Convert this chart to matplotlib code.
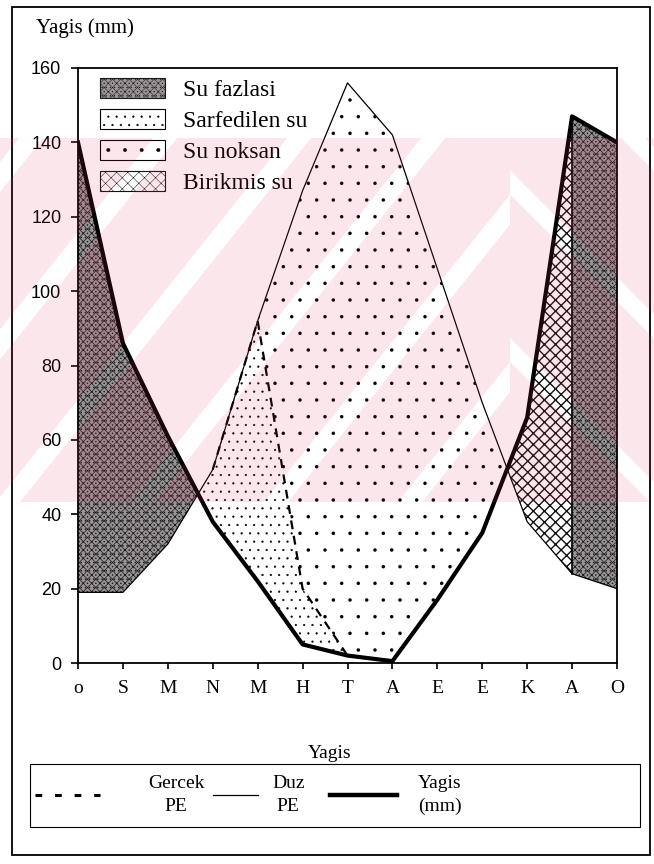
import numpy as np
import matplotlib
matplotlib.use("Agg")
import matplotlib.pyplot as plt
import matplotlib.patches as mpatches
from matplotlib.lines import Line2D

# Monthly water balance (Thornthwaite) values, mm
months = ["o", "S", "M", "N", "M", "H", "T", "A", "E", "E", "K", "A", "O"]
yagis = [140, 86, 61, 38, 22, 5, 2, 0.5, 17, 35, 66, 147, 140]
duz_pe = [19, 19, 32, 52, 92, 127, 156, 142, 106, 70, 38, 24, 20]
gercek_pe = [19, 19, 32, 52, 92, 20, 2, 0.5, 17, 35, 38, 24, 20]
yticks = [0, 20, 40, 60, 80, 100, 120, 140, 160]

area_names = ["Su fazlasi", "Sarfedilen su", "Su noksan", "Birikmis su"]
line_names = ["Gercek\nPE", "Duz\nPE", "Yagis\n(mm)"]

SERIF = "Liberation Serif"
SANS = "Liberation Sans"
W, H = 654, 864

plt.rcParams["hatch.linewidth"] = 0.35

fig = plt.figure(figsize=(W / 100, H / 100), dpi=100)


def fx(p):
    return p / W


def fy(p):
    return 1 - p / H


ax = fig.add_axes([fx(78), fy(663), fx(617) - fx(78), fy(68) - fy(663)])
ax.patch.set_facecolor("none")

x = np.arange(len(months))
P = np.array(yagis, dtype=float)
PE = np.array(duz_pe, dtype=float)
AET = np.array(gercek_pe, dtype=float)

styles = {
    "Su fazlasi": dict(facecolor="#9a9496", hatch="xxxx....", edgecolor="#1a1a1a"),
    "Sarfedilen su": dict(facecolor="none", hatch="..", edgecolor="black"),
    "Su noksan": dict(facecolor="none", hatch=".", edgecolor="black"),
    "Birikmis su": dict(facecolor="none", hatch="xxx", edgecolor="#111111"),
}
hatch_lw = {"Su fazlasi": 0.5, "Sarfedilen su": 0.35, "Su noksan": 0.1,
            "Birikmis su": 1.0}


def styled(artist, name):
    if hasattr(artist, "set_hatch_linewidth"):
        artist.set_hatch_linewidth(hatch_lw[name])
    return artist


# surplus in winter (precipitation above potential evapotranspiration)
styled(ax.fill_between(x[:4], P[:4], PE[:4], where=P[:4] >= PE[:4], interpolate=True,
                       linewidth=0, **styles["Su fazlasi"]), "Su fazlasi")
# soil recharge in autumn
styled(ax.fill_between(x[9:12], P[9:12], PE[9:12], where=P[9:12] >= PE[9:12],
                       interpolate=True, linewidth=0, **styles["Birikmis su"]),
       "Birikmis su")
styled(ax.fill_between(x[11:], P[11:], PE[11:], linewidth=0, **styles["Su fazlasi"]),
       "Su fazlasi")
# deficit: between actual and potential evapotranspiration
lower = np.where(x <= 9, AET, P)
styled(ax.fill_between(x, lower, PE, where=PE > lower, interpolate=True,
                       linewidth=0, **styles["Su noksan"]), "Su noksan")
# soil water used: between precipitation and actual evapotranspiration
styled(ax.fill_between(x[:8], P[:8], AET[:8], where=AET[:8] > P[:8], interpolate=True,
                       linewidth=0, **styles["Sarfedilen su"]), "Sarfedilen su")

ax.plot(x, PE, color="black", lw=0.9, zorder=3)
ax.plot(x[3:8], AET[3:8], color="black", lw=1.6, ls=(0, (4, 3)), zorder=3)
ax.plot(x[[11, 11]], [PE[11], P[11]], color="black", lw=1.2, zorder=3)
ax.plot(x, P, color="black", lw=3, solid_joinstyle="round", zorder=4)

ax.set_xlim(0, 12)
ax.set_ylim(0, 160)
ax.set_yticks(yticks)
ax.set_yticklabels([str(v) for v in yticks], fontfamily=SANS, fontsize=13)
ax.set_xticks(x)
ax.set_xticklabels(months, fontfamily=SERIF, fontsize=14)
ax.tick_params(axis="y", direction="out", length=5, width=1.2, pad=7)
ax.tick_params(axis="x", direction="out", length=4, width=1.2, pad=8)
for s in ax.spines.values():
    s.set_linewidth(1.3)

handles = [styled(mpatches.Patch(label=n, linewidth=0.8, **styles[n]), n)
           for n in area_names]
leg = ax.legend(handles=handles, loc="upper left", bbox_to_anchor=(0.041, 0.983),
                borderaxespad=0, borderpad=0, frameon=False, handlelength=2.75,
                handleheight=0.93, handletextpad=0.76, labelspacing=0.33,
                prop=dict(family=SERIF, size=17))

fig.text(fx(36), fy(28), "Yagis (mm)", va="center", ha="left",
         fontfamily=SERIF, fontsize=15)
fig.text(fx(330), fy(753), "Yagis", va="center", ha="center",
         fontfamily=SERIF, fontsize=14)

# line key below the chart
fig.add_artist(mpatches.Rectangle((fx(30), fy(827)), fx(640) - fx(30), fy(764) - fy(827),
                                  transform=fig.transFigure, fill=False, lw=0.8,
                                  edgecolor="black"))
key_lines = [
    dict(x0=35, x1=100, lw=2.2, ls=(0, (2.2, 4.2))),
    dict(x0=213, x1=258, lw=0.9, ls="-"),
    dict(x0=330, x1=397, lw=3.2, ls="-"),
]
key_text_x = [148, 272, 440]
key_text_ha = ["left", "left", "center"]
for spec, label, tx, ha in zip(key_lines, line_names, key_text_x, key_text_ha):
    fig.add_artist(Line2D([fx(spec["x0"]), fx(spec["x1"])], [fy(795), fy(795)],
                          transform=fig.transFigure, color="black",
                          lw=spec["lw"], ls=spec["ls"]))
    fig.text(fx(tx), fy(795), label, va="center", ha=ha, multialignment="center",
             fontfamily=SERIF, fontsize=14, linespacing=1.45)

# outer frame
fig.add_artist(mpatches.Rectangle((fx(12), fy(855)), fx(650) - fx(12), fy(7) - fy(855),
                                  transform=fig.transFigure, fill=False, lw=1.3,
                                  edgecolor="black"))

# faint pink background stamp: diagonal bands meeting in peaks
band_top, band_bot = 138, 502
apex = 510
pitch = 167.5          # vertical distance between light gaps
gap = 24               # horizontal width of a light gap
stamp = dict(transform=fig.transFigure, facecolor=(0.9, 0.25, 0.375), alpha=0.12,
             edgecolor="none", zorder=10)


def band_clip(x_lo, x_hi):
    r = mpatches.Rectangle((fx(x_lo), fy(band_bot)), fx(x_hi) - fx(x_lo),
                           fy(band_top) - fy(band_bot), transform=fig.transFigure,
                           facecolor="none", edgecolor="none")
    fig.add_artist(r)
    return r


def add_bands(slope, clip_rect):
    # gaps cross the seam x=apex at y = 362 + n * pitch
    run = pitch / abs(slope)
    for n in range(-8, 8):
        y_seam = 362 + n * pitch
        # x where the gap's left edge meets the bottom of the band
        xb = apex + (y_seam - band_bot) / slope
        xt = apex + (y_seam - band_top) / slope
        poly = [(xb + gap, band_bot), (xb + run, band_bot),
                (xt + run, band_top), (xt + gap, band_top)]
        p = mpatches.Polygon([(fx(a), fy(b)) for a, b in poly], closed=True, **stamp)
        fig.add_artist(p)
        p.set_clip_path(clip_rect)


add_bands(1.25, band_clip(0, apex))
add_bands(-1.0, band_clip(apex, W))

fig.savefig("out.png", dpi=100)
